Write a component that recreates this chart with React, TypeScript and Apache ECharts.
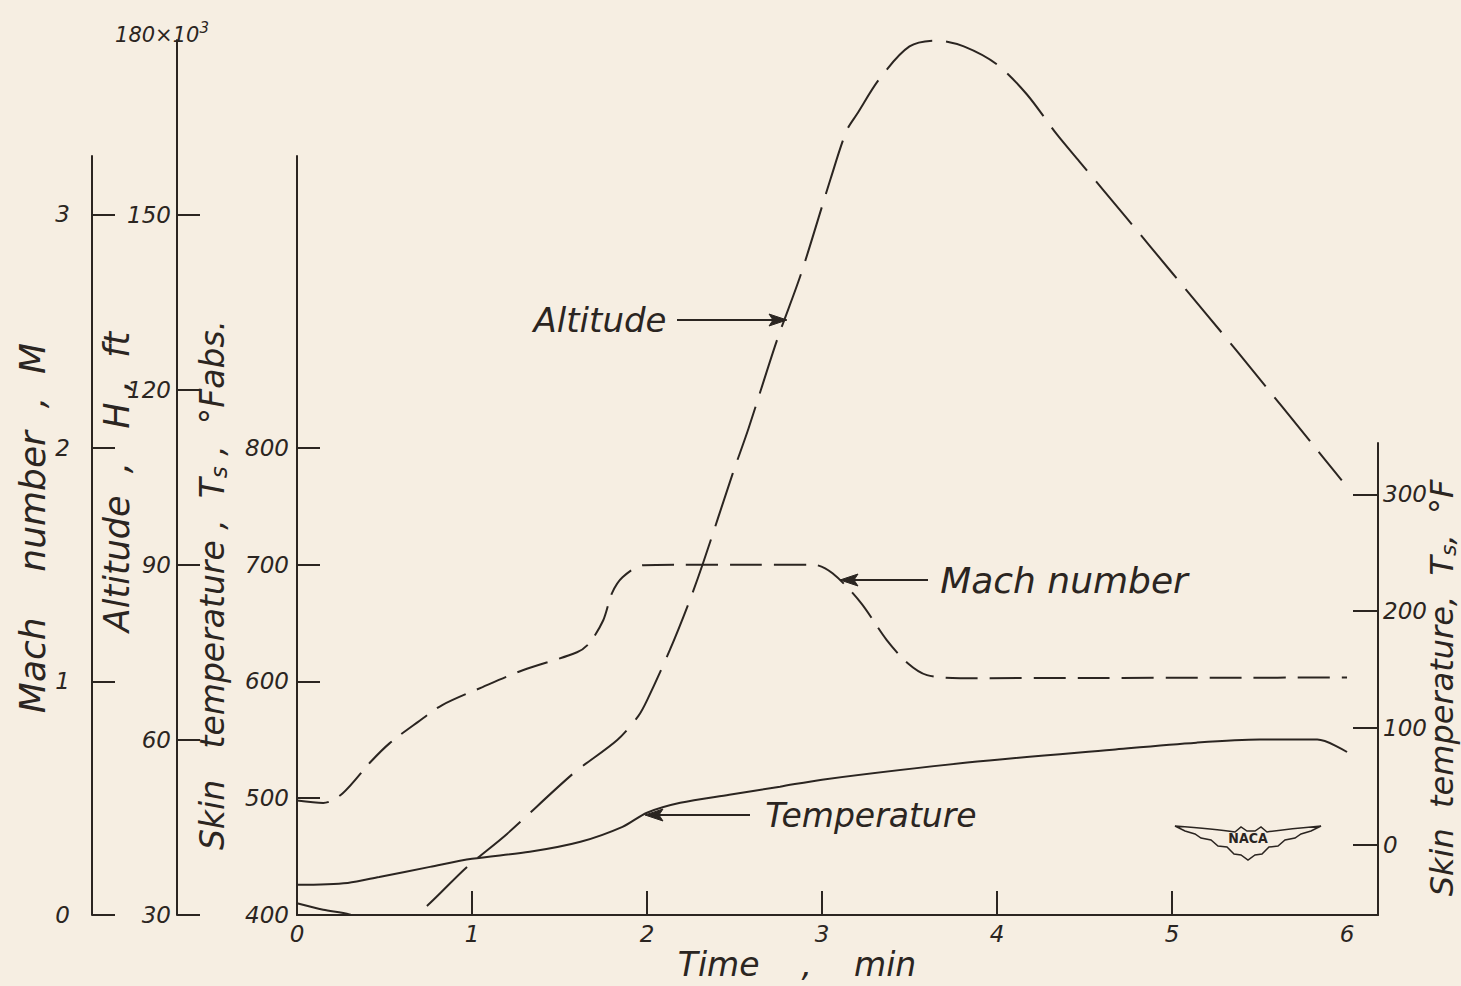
import React, { useEffect, useRef } from "react";
import * as echarts from "echarts";

// ---- Data -------------------------------------------------------------
const timeTicks = [0, 1, 2, 3, 4, 5, 6];
const timeInnerTicks = [1, 2, 3, 4, 5];
const machTicks = [0, 1, 2, 3];
const altitudeTicks = [30, 60, 90, 120, 150];
const absTempTicks = [400, 500, 600, 700, 800];
const fahrTempTicks = [0, 100, 200, 300];

// Altitude, thousands of ft, against time in minutes
const altitudeTime = [0, 0.15, 0.3, 0.5, 0.68, 0.97, 1.2, 1.58, 1.83, 1.95, 2.0, 2.13, 2.24, 2.32, 2.49, 2.58, 2.74, 2.88, 3.05, 3.14, 3.2, 3.33, 3.5, 3.66, 3.81, 4.0, 4.17, 4.34, 4.47, 4.74, 5.0, 5.37, 5.97];
const altitudeKft = [32.0, 30.9, 30.1, 27.8, 30.0, 38.2, 43.9, 54.3, 60.0, 64.1, 66.8, 75.4, 83.6, 90.3, 105.7, 113.4, 128.3, 139.9, 156.3, 164.4, 167.3, 173.4, 178.9, 179.9, 178.9, 175.8, 170.7, 163.9, 159.2, 149.5, 140.1, 126.7, 104.5];

// Mach number against time
const machTime = [0, 0.15, 0.26, 0.42, 0.53, 0.69, 0.83, 1.06, 1.29, 1.6, 1.67, 1.75, 1.8, 1.86, 1.98, 2.2, 2.6, 2.95, 3.06, 3.22, 3.37, 3.49, 3.6, 3.79, 4.5, 5.3, 6.0];
const machValues = [0.49, 0.48, 0.52, 0.655, 0.736, 0.826, 0.899, 0.976, 1.048, 1.125, 1.164, 1.262, 1.378, 1.446, 1.498, 1.5, 1.5, 1.5, 1.463, 1.339, 1.177, 1.078, 1.027, 1.014, 1.015, 1.016, 1.017];

// Skin temperature, deg F abs, against time
const tempTime = [0, 0.29, 0.47, 0.76, 1.0, 1.33, 1.62, 1.86, 2.0, 2.19, 2.47, 2.76, 3.0, 3.83, 4.66, 5.14, 5.5, 5.83, 6.0];
const tempRankine = [425.8, 427.5, 432.6, 441.2, 448.1, 454.1, 462.7, 475.5, 487.6, 496.1, 503, 509.9, 515.9, 530.5, 541.6, 547.6, 550.2, 550.2, 539.6];

// ---- Style --------------------------------------------------------------
const INK = "#2b2521";
const PAPER = "#f6eee2";
const FONT = "'DejaVu Sans', 'Open Sans', sans-serif";

const PLOT_LEFT = 297;
const PLOT_WIDTH = 1081;
const BASE_Y = 915;
const X_MAX = 6.177;

const pairs = (xs: number[], ys: number[]) => xs.map((x, i) => [x, ys[i]]);

// NACA wing emblem outline
const WINGS_PATH =
  "M0 3 Q40 6 60 9 L66 4 L72 8 L80 8 L86 4 L92 9 Q112 6 146 3 " +
  "L136 8 L126 11 L120 15 L110 17 L103 23 L94 24 L87 31 L80 32 L73 37 " +
  "L66 32 L59 31 L52 24 L43 23 L36 17 L26 15 L20 11 L10 8 Z";
echarts.graphic.registerShape("nacaWings", echarts.graphic.extendPath(WINGS_PATH, {}) as any);

const labelStyle = {
  color: INK,
  fontFamily: FONT,
  fontStyle: "italic" as const,
  fontSize: 23,
};

const lineAxis = { show: true, onZero: false, lineStyle: { color: INK, width: 2 } };
const tickStyle = { color: INK, width: 2 };

function titleText(text: string, x: number, y: number, size: number, rotate = true, rich?: any) {
  const style: any = {
    text,
    fill: INK,
    fontFamily: FONT,
    fontStyle: "italic",
    fontSize: size,
    align: "center",
    verticalAlign: "middle",
  };
  if (rich) style.rich = rich;
  return {
    type: "text",
    x,
    y,
    rotation: rotate ? Math.PI / 2 : 0,
    silent: true,
    style,
  };
}

function arrow(x1: number, x2: number, y: number) {
  const dir = x2 > x1 ? 1 : -1;
  return [
    {
      type: "line",
      silent: true,
      shape: { x1, y1: y, x2: x2 - dir * 10, y2: y },
      style: { stroke: INK, lineWidth: 2 },
    },
    {
      type: "polygon",
      silent: true,
      shape: {
        points: [
          [x2, y],
          [x2 - dir * 18, y - 6],
          [x2 - dir * 14, y],
          [x2 - dir * 18, y + 6],
        ],
      },
      style: { fill: INK, stroke: INK, lineWidth: 1 },
    },
  ];
}

function subRich(size: number) {
  return {
    a: { fontFamily: FONT, fontStyle: "italic", fontSize: size, fill: INK },
    s: { fontFamily: FONT, fontStyle: "italic", fontSize: Math.round(size * 0.7), fill: INK, padding: [Math.round(size * 0.4), 0, 0, 0] },
  };
}

export default function App() {
  const ref = useRef<HTMLDivElement>(null);

  useEffect(() => {
    if (!ref.current) return;
    const chart = echarts.init(ref.current, null, { renderer: "svg" });

    chart.setOption({
      animation: false,
      backgroundColor: PAPER,
      grid: [
        { left: PLOT_LEFT, top: 40, width: PLOT_WIDTH, height: BASE_Y - 40 },
        { left: PLOT_LEFT, top: 156, width: PLOT_WIDTH, height: BASE_Y - 156 },
        { left: PLOT_LEFT, top: 443, width: PLOT_WIDTH, height: BASE_Y - 443 },
      ],
      xAxis: [
        {
          type: "value",
          gridIndex: 0,
          min: 0,
          max: X_MAX,
          axisLine: lineAxis,
          axisTick: { show: true, inside: true, length: 24, customValues: timeInnerTicks, lineStyle: tickStyle },
          axisLabel: { ...labelStyle, customValues: timeTicks, margin: 7 },
          splitLine: { show: false },
        },
        { type: "value", gridIndex: 1, min: 0, max: X_MAX, show: false },
        { type: "value", gridIndex: 2, min: 0, max: X_MAX, show: false },
      ],
      yAxis: [
        {
          // Altitude, thousands of ft
          type: "value",
          gridIndex: 0,
          position: "left",
          offset: 120,
          min: 30,
          max: 180,
          axisLine: lineAxis,
          axisTick: { show: true, inside: true, length: 23, customValues: altitudeTicks, lineStyle: tickStyle },
          axisLabel: { ...labelStyle, customValues: altitudeTicks, margin: 6 },
          splitLine: { show: false },
        },
        {
          // Mach number
          type: "value",
          gridIndex: 1,
          position: "left",
          offset: 205,
          min: 0,
          max: 3.25,
          axisLine: lineAxis,
          axisTick: { show: true, inside: true, length: 23, customValues: machTicks, lineStyle: tickStyle },
          axisLabel: { ...labelStyle, customValues: machTicks, margin: 22 },
          splitLine: { show: false },
        },
        {
          // Skin temperature, deg F abs
          type: "value",
          gridIndex: 1,
          position: "left",
          offset: 0,
          min: 400,
          max: 1050,
          axisLine: lineAxis,
          axisTick: { show: true, inside: true, length: 23, customValues: absTempTicks, lineStyle: tickStyle },
          axisLabel: { ...labelStyle, customValues: absTempTicks, margin: 8 },
          splitLine: { show: false },
        },
        {
          // Skin temperature, deg F
          type: "value",
          gridIndex: 2,
          position: "right",
          offset: 0,
          min: -60,
          max: 344,
          axisLine: lineAxis,
          axisTick: { show: true, inside: true, length: 25, customValues: fahrTempTicks, lineStyle: tickStyle },
          axisLabel: { ...labelStyle, customValues: fahrTempTicks, margin: 5 },
          splitLine: { show: false },
        },
      ],
      series: [
        {
          name: "Altitude",
          type: "line",
          xAxisIndex: 0,
          yAxisIndex: 0,
          data: pairs(altitudeTime, altitudeKft),
          symbol: "none",
          smooth: 0.3,
          clip: true,
          lineStyle: { color: INK, width: 2, type: [56, 14] },
        },
        {
          name: "Mach number",
          type: "line",
          xAxisIndex: 1,
          yAxisIndex: 1,
          data: pairs(machTime, machValues),
          symbol: "none",
          smooth: 0.3,
          lineStyle: { color: INK, width: 2, type: [32, 12] },
        },
        {
          name: "Temperature",
          type: "line",
          xAxisIndex: 1,
          yAxisIndex: 2,
          data: pairs(tempTime, tempRankine),
          symbol: "none",
          smooth: 0.3,
          lineStyle: { color: INK, width: 2 },
        },
      ],
      graphic: [
        // axis titles
        titleText("Mach    number  ,  M", 32, 528, 36),
        titleText("Altitude  ,   H ,  ft", 117, 482, 35),
        titleText("{a|Skin   temperature ,  T}{s|s}{a| ,  °Fabs.}", 212, 585, 33, true, subRich(33)),
        titleText("{a|Skin  temperature,  T}{s|s}{a|,  °F}", 1442, 688, 32, true, subRich(32)),
        titleText("Time    ,    min", 797, 964, 33, false),
        // top of altitude scale
        titleText("{a|180×10}{s|3}", 162, 35, 21, false, {
          a: { fontFamily: FONT, fontStyle: "italic", fontSize: 21, fill: INK },
          s: { fontFamily: FONT, fontStyle: "italic", fontSize: 15, fill: INK, padding: [0, 0, 14, 0] },
        }),
        // curve callouts
        titleText("Altitude", 600, 320, 34, false),
        ...arrow(677, 787, 320),
        titleText("Mach number", 1064, 580, 36, false),
        ...arrow(928, 840, 580),
        titleText("Temperature", 871, 815, 33, false),
        ...arrow(750, 645, 815),
        // NACA emblem
        {
          type: "nacaWings",
          x: 1175,
          y: 823,
          silent: true,
          style: { fill: "none", stroke: INK, lineWidth: 1.5 },
        },
        {
          type: "text",
          x: 1248,
          y: 838,
          silent: true,
          style: {
            text: "NACA",
            fill: INK,
            fontFamily: "'DejaVu Sans Condensed', 'DejaVu Sans', sans-serif",
            fontWeight: "bold",
            fontSize: 14,
            align: "center",
            verticalAlign: "middle",
          },
        },
      ],
    });

    return () => chart.dispose();
  }, []);

  return (
    <div
      ref={ref}
      style={{ position: "fixed", left: 0, top: 0, width: 1461, height: 986 }}
    />
  );
}
